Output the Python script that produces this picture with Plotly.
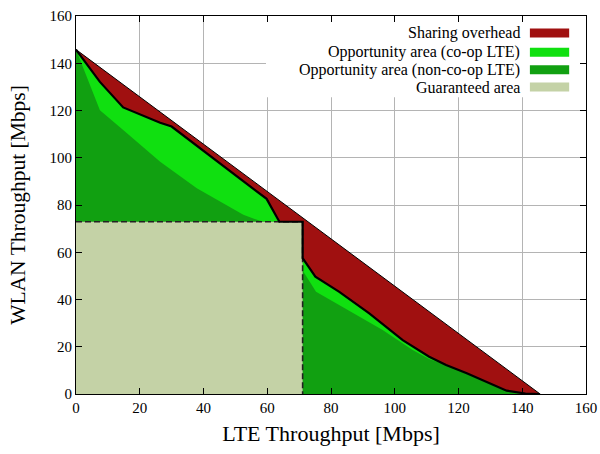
import plotly.graph_objects as go

# ---------------- data ----------------
# outer capacity limit (hypotenuse)
limit_x = [0, 145.6]
limit_y = [145.8, 0]

# co-op LTE boundary (black line), upper-left part and lower-right part
coop_left_x = [0, 7.5, 14.8, 26.4, 30.0, 59.8, 63.8, 71.1]
coop_left_y = [145.8, 132.1, 121.3, 114.8, 113.2, 82.6, 72.9, 72.9]
coop_right_x = [71.1, 71.1, 75.1, 82.6, 92.0, 102.5, 110.8, 116.1, 122.6, 135.1, 141.0, 145.6]
coop_right_y = [72.9, 57.5, 49.7, 43.2, 34.1, 22.8, 15.8, 12.3, 8.8, 1.4, 0.2, 0]

# non-co-op LTE boundary
noncoop_left_x = [0, 7.5, 14.8, 26.4, 37.9, 52.5, 57.7, 59.8, 71.1]
noncoop_left_y = [145.8, 120.1, 111.7, 98.3, 87.1, 75.9, 73.3, 72.9, 72.9]
noncoop_right_x = [71.1, 75.3, 83.7, 96.2, 105.6, 110.8, 112.5, 116.1, 122.6, 135.1, 141.0, 145.6]
noncoop_right_y = [52.3, 43.3, 36.9, 27.1, 18.6, 14.8, 14.0, 12.3, 8.8, 1.4, 0.2, 0]

# guaranteed area corner
guar_x = 71.1
guar_y = 72.9

legend_labels = ["Sharing overhead", "Opportunity area (co-op LTE)",
                 "Opportunity area (non-co-op LTE)", "Guaranteed area"]

c_red = "#A01010"
c_light = "#10E010"
c_dark = "#11A011"
c_guar = "#C4D2A6"
legend_colors = [c_red, c_light, c_dark, c_guar]

FONT = "Liberation Serif, Times New Roman, serif"

fig = go.Figure()

# sharing overhead: whole region below the limit
fig.add_trace(go.Scatter(x=[0] + limit_x + [0], y=[0] + limit_y + [0], mode="lines",
                         fill="toself", fillcolor=c_red, line=dict(width=0),
                         hoverinfo="skip", showlegend=False))
# co-op opportunity
cx = coop_left_x + coop_right_x + [0]
cy = coop_left_y + coop_right_y + [0]
fig.add_trace(go.Scatter(x=cx, y=cy, mode="lines", fill="toself", fillcolor=c_light,
                         line=dict(width=0), hoverinfo="skip", showlegend=False))
# non-co-op opportunity
nx = noncoop_left_x + noncoop_right_x + [0]
ny = noncoop_left_y + noncoop_right_y + [0]
fig.add_trace(go.Scatter(x=nx, y=ny, mode="lines", fill="toself", fillcolor=c_dark,
                         line=dict(width=0), hoverinfo="skip", showlegend=False))
# guaranteed area
fig.add_trace(go.Scatter(x=[0, 0, guar_x, guar_x, 0], y=[0, guar_y, guar_y, 0, 0], mode="lines",
                         fill="toself", fillcolor=c_guar, line=dict(width=0),
                         hoverinfo="skip", showlegend=False))
# dashed border of guaranteed area
fig.add_trace(go.Scatter(x=[0, guar_x, guar_x], y=[guar_y, guar_y, 0], mode="lines",
                         line=dict(color="#222222", width=1.6, dash="6px,3px"),
                         hoverinfo="skip", showlegend=False))
# black co-op boundary line
fig.add_trace(go.Scatter(x=coop_left_x + coop_right_x, y=coop_left_y + coop_right_y, mode="lines",
                         line=dict(color="black", width=2.2), hoverinfo="skip", showlegend=False))
# limit line
fig.add_trace(go.Scatter(x=limit_x, y=limit_y, mode="lines",
                         line=dict(color="black", width=1), hoverinfo="skip", showlegend=False))

ticks = list(range(0, 161, 20))
axis_common = dict(range=[0, 160], tickvals=ticks, ticktext=[str(t) for t in ticks],
                   showgrid=True, gridcolor="#B4B4B4", gridwidth=1, automargin=False,
                   showline=True, linecolor="black", linewidth=1, mirror="allticks",
                   ticks="inside", ticklen=6, tickcolor="black", zeroline=False,
                   tickfont=dict(family=FONT, size=15, color="black"))

fig.update_layout(
    width=600, height=454,
    margin=dict(l=76, r=14, t=16, b=60, autoexpand=False),
    paper_bgcolor="white", plot_bgcolor="white",
    showlegend=False,
    xaxis=dict(**axis_common,
               title=dict(text="LTE Throughput [Mbps]", font=dict(family=FONT, size=22, color="black"), standoff=10)),
    yaxis=dict(**axis_common,
               title=dict(text="WLAN Throughput [Mbps]", font=dict(family=FONT, size=21.5, color="black"), standoff=17)),
)

# legend box (white background hiding grid)
fig.add_shape(type="rect", xref="x", yref="y", x0=59.6, x1=160, y0=125.6, y1=160,
              fillcolor="white", line=dict(width=0), layer="between")

row_y = [0.955, 0.904, 0.858, 0.812]
for lab, col, yy in zip(legend_labels, legend_colors, row_y):
    fig.add_annotation(xref="paper", yref="paper", x=0.874, y=yy, text=lab, showarrow=False,
                       xanchor="right", yanchor="middle",
                       font=dict(family=FONT, size=16, color="black"))
    fig.add_shape(type="rect", xref="paper", yref="paper", x0=0.890, x1=0.967,
                  y0=yy - 0.012, y1=yy + 0.012, fillcolor=col, line=dict(width=0), layer="above")

fig.write_html("out.html")
